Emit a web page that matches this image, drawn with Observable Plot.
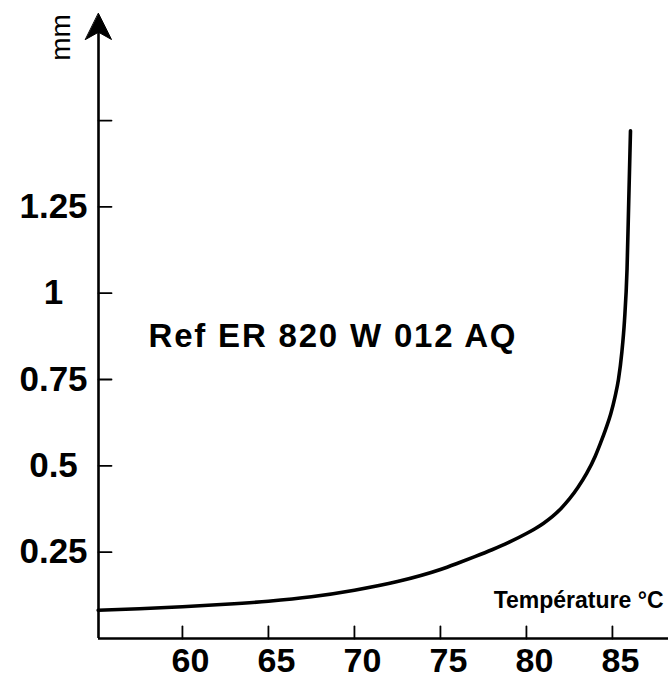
<!DOCTYPE html>
<html>
<head>
<meta charset="utf-8">
<script src="https://cdn.jsdelivr.net/npm/d3@7"></script>
<script src="https://cdn.jsdelivr.net/npm/@observablehq/plot@0.6"></script>
<style>
  html, body { margin: 0; padding: 0; background: #fff; }
  #chart svg { display: block; }
</style>
</head>
<body>
<div id="chart"></div>
<script>
// Data
const temperature = [55.1, 57.5, 60, 62.5, 65, 67.5, 70, 72.5, 75, 76, 77, 78, 79, 80, 80.5, 81, 81.5, 82, 82.5, 83, 83.5, 84, 84.3, 84.6, 84.9, 85.15, 85.35, 85.55, 85.7, 85.85, 85.95, 86.05];
const displacement = [0.082, 0.086, 0.092, 0.099, 0.108, 0.121, 0.140, 0.165, 0.200, 0.218, 0.237, 0.257, 0.279, 0.304, 0.318, 0.334, 0.353, 0.376, 0.404, 0.438, 0.478, 0.528, 0.565, 0.605, 0.650, 0.700, 0.750, 0.830, 0.920, 1.070, 1.270, 1.470];
const xTicks = [60, 65, 70, 75, 80, 85];
const yTicks = [0.25, 0.5, 0.75, 1, 1.25, 1.5];
const yTickLabels = ["0.25", "0.5", "0.75", "1", "1.25", ""];
const xLabel = "Température °C";
const yLabel = "mm";
const seriesLabel = "Ref ER 820 W 012 AQ";
const xDomain = [55.12, 88.26];
const yDomain = [0, 1.81];

const curve = temperature.map((t, i) => ({t, v: displacement[i]}));
const font = "Liberation Sans, Arial, Helvetica, sans-serif";

const lineShape = {draw(ctx, l) { ctx.moveTo(0, 0); ctx.lineTo(0, -l); }};
const headShape = {draw(ctx, l) {
  ctx.moveTo(0, 0);
  ctx.lineTo(-l * 0.5, -l);
  ctx.lineTo(0, -l * 0.72);
  ctx.lineTo(l * 0.5, -l);
  ctx.closePath();
}};

const chart = Plot.plot({
  width: 668,
  height: 681,
  marginLeft: 98,
  marginRight: 0,
  marginTop: 13,
  marginBottom: 43,
  style: {fontFamily: font, background: "#fff", color: "#000", overflow: "visible"},
  x: {domain: xDomain, axis: null},
  y: {domain: yDomain, axis: null},
  marks: [
    // axis lines
    Plot.ruleY([0], {stroke: "#000", strokeWidth: 2.6}),
    Plot.ruleX([xDomain[0]], {y1: 0, y2: yDomain[1] * 0.97, stroke: "#000", strokeWidth: 2.6}),
    // arrow heads
    Plot.vector([0], {x: xDomain[0], y: yDomain[1], length: 26, anchor: "start", rotate: 180, shape: headShape, fill: "#000", stroke: "#000", strokeWidth: 1}),
    Plot.vector([0], {x: xDomain[1], y: 0, length: 20, anchor: "start", rotate: 90, shape: headShape, fill: "#000", stroke: "#000", strokeWidth: 1}),
    // ticks (pointing inward)
    Plot.vector(xTicks, {x: d => d, y: 0, length: 12, anchor: "start", shape: lineShape, stroke: "#000", strokeWidth: 1.8}),
    Plot.vector(yTicks, {x: xDomain[0], y: d => d, length: 13, anchor: "start", rotate: 90, shape: lineShape, stroke: "#000", strokeWidth: 1.8}),
    // tick labels
    Plot.text(xTicks, {x: d => d, y: 0, text: d => String(d), dx: 8, dy: 23, textAnchor: "middle", lineAnchor: "middle", fontSize: 34, fontWeight: "bold", fill: "#000"}),
    Plot.text(yTicks, {x: xDomain[0], y: d => d, text: (d, i) => yTickLabels[i], dx: -45, textAnchor: "middle", lineAnchor: "middle", fontSize: 35, fontWeight: "bold", fill: "#000"}),
    // axis titles
    Plot.text([xLabel], {x: xDomain[1], y: 0, text: d => d, dx: -5, dy: -38, textAnchor: "end", lineAnchor: "middle", fontSize: 23, fontWeight: "bold", fill: "#000"}),
    Plot.text([yLabel], {frameAnchor: "top-left", text: d => d, dx: -37, dy: 24, rotate: -90, textAnchor: "middle", lineAnchor: "middle", fontSize: 28, fill: "#000"}),
    // series annotation
    Plot.text([seriesLabel], {frameAnchor: "top-left", text: d => d, dx: 50, dy: 323, textAnchor: "start", lineAnchor: "middle", fontSize: 33, fontWeight: "bold", fill: "#000", className: "series-label"}),
    // curve
    Plot.line(curve, {x: "t", y: "v", curve: "monotone-x", stroke: "#000", strokeWidth: 3.6})
  ]
});

document.getElementById("chart").append(chart);
d3.select(chart).selectAll(".series-label text").attr("textLength", 367).attr("lengthAdjust", "spacing");
</script>
</body>
</html>
